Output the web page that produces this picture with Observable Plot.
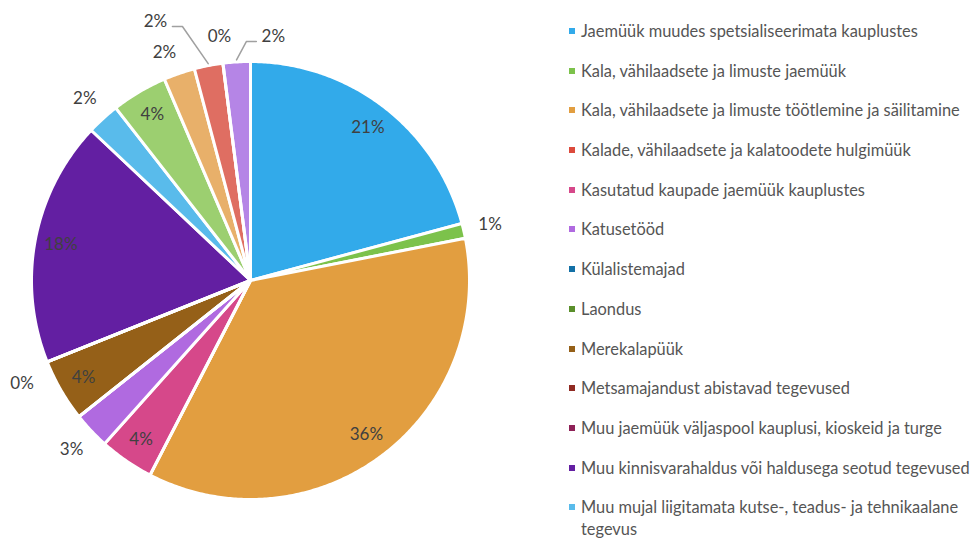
<!DOCTYPE html>
<html><head><meta charset="utf-8">
<script src="https://cdn.jsdelivr.net/npm/d3@7"></script>
<script src="https://cdn.jsdelivr.net/npm/@observablehq/plot@0.6"></script>
<style>
html,body{margin:0;padding:0;background:#fff;}
#wrap{position:relative;width:973px;height:538px;overflow:hidden;font-family:Lato,"Open Sans",sans-serif;}
#chart{position:absolute;left:0;top:0;}
#legend{position:absolute;left:567px;top:20px;width:406px;}
.item{position:relative;padding-left:14px;font-size:16.4px;line-height:22px;color:#555;margin-bottom:17.7px;width:392px;}
.item .sw{position:absolute;left:2px;top:8px;width:6px;height:6px;}
</style></head><body>
<div id="wrap"><div id="chart"></div><div id="legend"></div></div>
<script>
// ---- data ----
const categories = [
  "Jaemüük muudes spetsialiseerimata kauplustes",
  "Kala, vähilaadsete ja limuste jaemüük",
  "Kala, vähilaadsete ja limuste töötlemine ja säilitamine",
  "Kalade, vähilaadsete ja kalatoodete hulgimüük",
  "Kasutatud kaupade jaemüük kauplustes",
  "Katusetööd",
  "Külalistemajad",
  "Laondus",
  "Merekalapüük",
  "Metsamajandust abistavad tegevused",
  "Muu jaemüük väljaspool kauplusi, kioskeid ja turge",
  "Muu kinnisvarahaldus või haldusega seotud tegevused",
  "Muu mujal liigitamata kutse-, teadus- ja tehnikaalane tegevus",
  "Mujal liigitamata muud tegevused (1)",
  "Mujal liigitamata muud tegevused (2)",
  "Mujal liigitamata muud tegevused (3)",
  "Mujal liigitamata muud tegevused (4)",
  "Mujal liigitamata muud tegevused (5)"
];
const shares = [20.7, 1.1, 35.5, 0, 4.0, 2.7, 0, 0, 4.6, 0, 0, 18.0, 2.4, 4.1, 2.3, 2.1, 0, 2.0];
const pctLabels = ["21%","1%","36%","0%","4%","3%","0%","0%","4%","0%","0%","18%","2%","4%","2%","2%","0%","2%"];
const colors = ["#32aaea","#7cc24b","#e29e40","#dc4a3c","#d6488a","#b06ae0","#1370a6","#5a8f2b",
  "#956018","#8f2a22","#8e2157","#631fa2","#59bbeb","#9ccf70","#e8b06a","#df6e62","#e080ab","#b585e6"];

// ---- layout (not data) ----
const W = 540, H = 538, cx = 250, cy = 280, R = 219;
const labelMode = ["in","out","in","hide","in","out","hide","hide","in","out","hide","in","out","in","out","lead","out","lead"];
const nudges = {9: [0, 12], 14: [-6, 5]}; // pixel nudges (dx, dy down)
const leaders = {15: {angle: 345, r: 263, dx: -10}, 17: {angle: 359, r: 239, dx: 10}};
const halfLabel = 12; // half width of a "2%" label, px

const rad = d => d * Math.PI / 180;
const pie = d3.pie().sort(null).value(d => d)(shares);
const toXY = (a, r) => [r * Math.sin(a) / R, r * Math.cos(a) / R];

// polygon rows for each slice
const polys = [], zeros = [];
pie.forEach((p, i) => {
  if (p.endAngle - p.startAngle <= 0) {
    const [x2, y2] = toXY(p.startAngle, R + 2);
    zeros.push({x1: 0, y1: 0, x2, y2});
    return;
  }
  polys.push({name: categories[i], x: 0, y: 0});
  const n = Math.max(2, Math.ceil((p.endAngle - p.startAngle) / rad(0.5)));
  for (let k = 0; k <= n; k++) {
    const a = p.startAngle + (p.endAngle - p.startAngle) * k / n;
    const [x, y] = toXY(a, R);
    polys.push({name: categories[i], x, y});
  }
});

const texts = [], lines = [];
pie.forEach((p, i) => {
  const m = labelMode[i];
  if (m === "hide") return;
  const mid = (p.startAngle + p.endAngle) / 2;
  if (m === "in") {
    const [x, y] = toXY(mid, 193);
    texts.push({x, y, text: pctLabels[i]});
  } else if (m === "out") {
    let [x, y] = toXY(mid, 246);
    const nd = nudges[i] || [0, 0];
    texts.push({x: x + nd[0] / R, y: y - nd[1] / R, text: pctLabels[i]});
  } else {
    const L = leaders[i];
    const [x0, y0] = toXY(mid, R + 2);
    const [x1, y1] = toXY(rad(L.angle), L.r);
    const x2 = x1 + L.dx / R;
    lines.push({id: i, x: x0, y: y0}, {id: i, x: x1, y: y1}, {id: i, x: x2, y: y1});
    texts.push({x: x2 + Math.sign(L.dx) * (5 + halfLabel) / R, y: y1 + 5 / R, text: pctLabels[i]});
  }
});

const chart = Plot.plot({
  width: W, height: H, margin: 0,
  style: {background: "transparent", fontFamily: "Lato, 'Open Sans', sans-serif"},
  x: {domain: [-cx / R, (W - cx) / R], axis: null},
  y: {domain: [-(H - cy) / R, cy / R], axis: null},
  color: {domain: categories, range: colors},
  marks: [
    Plot.line(polys, {x: "x", y: "y", z: "name", fill: "name", stroke: "white", strokeWidth: 3, curve: "linear-closed", strokeLinejoin: "round"}),
    Plot.link(zeros, {x1: "x1", y1: "y1", x2: "x2", y2: "y2", stroke: "white", strokeWidth: 3}),
    Plot.line(lines, {x: "x", y: "y", z: "id", stroke: "#a0a0a0", strokeWidth: 1.5}),
    Plot.text(texts, {x: "x", y: "y", text: "text", textAnchor: "middle", fontSize: 17, fill: "#404040"})
  ]
});
document.getElementById("chart").appendChild(chart);

const leg = document.getElementById("legend");
for (let i = 0; i < categories.length; i++) {
  const d = document.createElement("div");
  d.className = "item";
  d.innerHTML = `<span class="sw" style="background:${colors[i]}"></span>${categories[i]}`;
  leg.appendChild(d);
  if (d.offsetTop + leg.offsetTop > H - 30) { leg.removeChild(d); break; } // outside the frame
}
</script>
</body></html>
